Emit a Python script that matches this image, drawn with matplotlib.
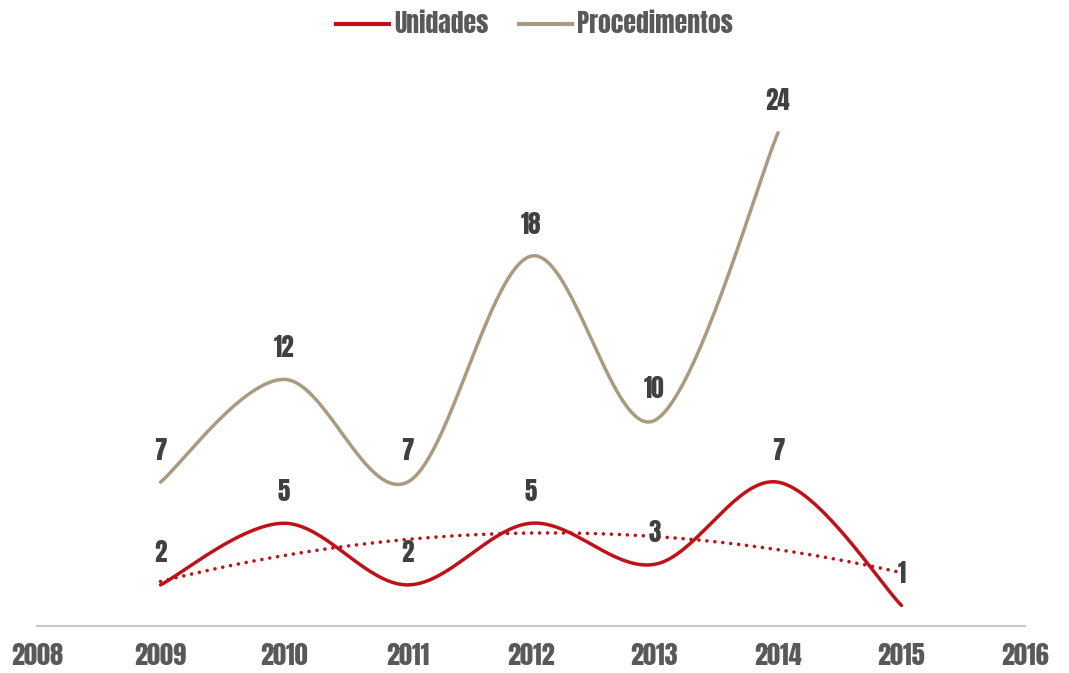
import matplotlib
matplotlib.use('Agg')
import matplotlib.pyplot as plt
from matplotlib.lines import Line2D
import numpy as np

# ── 字体 / 配色 ──
plt.rcParams['font.family'] = ['Anton', 'Oswald', 'DejaVu Sans']

RED = '#BF1218'
TAN = '#A99B7F'
LABEL = '#404040'
TICK = '#595959'
AXIS = '#C8C8C8'

# ── 数据 ──
years = [2008, 2009, 2010, 2011, 2012, 2013, 2014, 2015, 2016]
unid_years = [2009, 2010, 2011, 2012, 2013, 2014, 2015]
unidades = [2, 5, 2, 5, 3, 7, 1]
proc_years = [2009, 2010, 2011, 2012, 2013, 2014]
procedimentos = [7, 12, 7, 18, 10, 24]


def smooth(xs, ys, n=40):
    """Excel 风格平滑线 (Catmull-Rom -> Bezier)"""
    P = np.column_stack([xs, ys]).astype(float)
    P = np.vstack([P[0], P, P[-1]])
    out = []
    t = np.linspace(0, 1, n)[:, None]
    for i in range(1, len(P) - 2):
        p0, p1, p2, p3 = P[i - 1], P[i], P[i + 1], P[i + 2]
        c1 = p1 + (p2 - p0) / 6
        c2 = p2 - (p3 - p1) / 6
        seg = ((1 - t) ** 3) * p1 + 3 * ((1 - t) ** 2) * t * c1 \
            + 3 * (1 - t) * t ** 2 * c2 + t ** 3 * p2
        out.append(seg if i == 1 else seg[1:])
    s = np.vstack(out)
    return s[:, 0], s[:, 1]


fig = plt.figure(figsize=(10.69, 6.73), dpi=100)
H = 673
ax = fig.add_axes([37 / 1069, (H - 626) / H, (1025 - 37) / 1069, (626 - 80) / H])
ax.set_xlim(2008, 2016)
ax.set_ylim(0, (626 - 80) / 20.55)

# 曲线
x, y = smooth(proc_years, procedimentos)
ax.plot(x, y, color=TAN, lw=2.5, solid_capstyle='round')
x, y = smooth(unid_years, unidades)
ax.plot(x, y, color=RED, lw=2.5, solid_capstyle='round')

# 多项式趋势线 (二次)
c = np.polyfit(unid_years, unidades, 2)
xt = np.linspace(unid_years[0], unid_years[-1], 200)
ax.plot(xt, np.polyval(c, xt), color=RED, lw=2.6,
        linestyle=(0, (0.01, 2.2)), dash_capstyle='round')

# 数据标签
for xv, yv in zip(proc_years, procedimentos):
    ax.annotate(str(yv), (xv, yv), xytext=(0, 23), textcoords='offset points',
                ha='center', va='center', fontsize=18, color=LABEL)
for xv, yv in zip(unid_years, unidades):
    ax.annotate(str(yv), (xv, yv), xytext=(0, 23), textcoords='offset points',
                ha='center', va='center', fontsize=18, color=LABEL)

# 坐标轴
for s in ['top', 'right', 'left']:
    ax.spines[s].set_visible(False)
ax.spines['bottom'].set_color(AXIS)
ax.spines['bottom'].set_linewidth(1.5)
ax.set_yticks([])
ax.set_xticks(years)
ax.set_xticklabels([str(v) for v in years], fontsize=19, color=TICK)
ax.tick_params(axis='x', length=0, pad=12)

# 图例
handles = [Line2D([], [], color=RED, lw=3), Line2D([], [], color=TAN, lw=3)]
fig.legend(handles, ['Unidades', 'Procedimentos'], loc='upper center',
           bbox_to_anchor=(0.5, 1.018), ncol=2, frameon=False,
           prop={'size': 18.5}, labelcolor=TICK,
           handlelength=2.05, handletextpad=0.2, columnspacing=1.2)

fig.savefig('out.png', dpi=100, facecolor='white')
